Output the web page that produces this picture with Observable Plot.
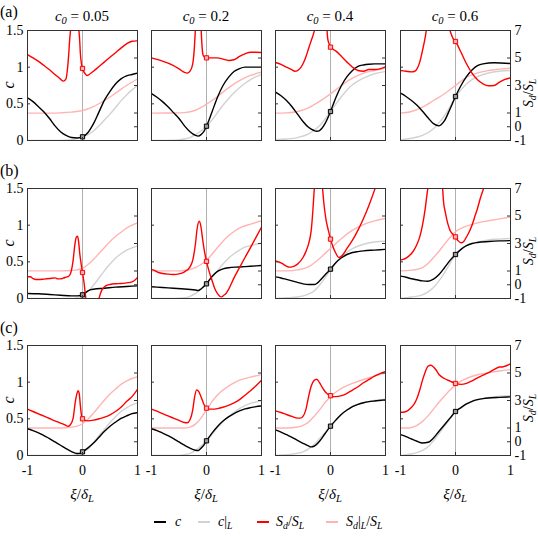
<!DOCTYPE html>
<html><head><meta charset="utf-8">
<script src="https://cdn.jsdelivr.net/npm/d3@7"></script>
<script src="https://cdn.jsdelivr.net/npm/@observablehq/plot@0.6"></script>
<style>
body{margin:0;background:#fff;}
#root{position:relative;width:538px;height:538px;overflow:hidden;font-family:"Liberation Serif","Times New Roman",Times,serif;color:#000;background:#fff;}
.lbl{position:absolute;white-space:nowrap;line-height:1;}
sub{font-size:70%;vertical-align:-0.3em;line-height:0;}
.leg{position:absolute;height:1.5px;width:12px;}
</style></head><body><div id="root"></div>
<script>
// ---- labels / ticks ----
const rowLabels = ["(a)", "(b)", "(c)"];
const c0Labels = ["0.05", "0.2", "0.4", "0.6"];
const cTicks = [0, 0.5, 1, 1.5];
const sTicks = [-1, 0, 1, 3, 5, 7];
const xTicks = [-1, 0, 1];

// ---- data: [xi/deltaL, value]; c in c-units, S in Sd/SL units ----
// row (a)
const a1_c = [[-1,.58],[-.9,.53],[-.8,.46],[-.7,.39],[-.6,.30],[-.5,.20],[-.4,.12],[-.3,.07],[-.2,.04],[-.1,.035],[0,.05],[.1,.11],[.2,.23],[.3,.39],[.4,.55],[.5,.67],[.6,.77],[.7,.84],[.8,.88],[.9,.90],[1,.92]];
const a1_cL = [[-1,0],[-.6,0],[-.3,.003],[-.2,.01],[-.1,.025],[0,.05],[.1,.08],[.2,.13],[.3,.2],[.4,.28],[.5,.36],[.6,.45],[.7,.54],[.8,.62],[.9,.69],[1,.75]];
const a1_S = [[-1,5.25],[-.9,5.01],[-.8,4.75],[-.7,4.45],[-.6,4.14],[-.5,3.8],[-.4,3.46],[-.35,3.32],[-.3,3.48],[-.27,4.33],[-.25,5.3],[-.23,6.5],[-.21,7.3],[-.14,14],[-.07,7.3],[-.05,6.2],[-.04,5.4],[-.02,4.6],[0,4.24],[.05,3.85],[.08,3.73],[.12,3.8],[.2,4.04],[.3,4.38],[.4,4.72],[.5,5.06],[.6,5.38],[.7,5.72],[.8,6.03],[.9,6.22],[1,6.25]];
const a1_SL = [[-1,.99],[-.6,.99],[-.4,1.01],[-.2,1.06],[0,1.18],[.2,1.47],[.4,1.91],[.6,2.44],[.8,3.0],[1,3.48]];

const a2_c = [[-1,.64],[-.9,.59],[-.8,.53],[-.7,.46],[-.6,.38],[-.5,.30],[-.4,.20],[-.3,.12],[-.2,.07],[-.15,.06],[-.1,.08],[-.05,.12],[0,.195],[.1,.39],[.2,.59],[.3,.75],[.4,.86],[.5,.94],[.6,.98],[.7,1.0],[.8,1.0],[1,1.0]];
const a2_cL = [[-1,0],[-.6,.003],[-.5,.01],[-.4,.02],[-.3,.04],[-.2,.08],[-.1,.13],[0,.195],[.1,.28],[.2,.38],[.3,.48],[.4,.57],[.5,.65],[.6,.72],[.7,.78],[.8,.83],[.9,.87],[1,.9]];
const a2_S = [[-1,5.01],[-.8,4.77],[-.6,4.45],[-.5,4.21],[-.4,3.95],[-.35,3.9],[-.3,4.04],[-.25,4.58],[-.22,5.79],[-.2,7.3],[-.15,13],[-.1,7.3],[-.08,5.79],[-.06,5.18],[-.03,5.05],[0,5.01],[.1,5.01],[.2,5.01],[.3,4.92],[.4,4.82],[.5,4.87],[.6,5.11],[.7,5.3],[.8,5.42],[.9,5.42],[1,5.4]];
const a2_SL = [[-1,.99],[-.6,1.0],[-.4,1.03],[-.2,1.2],[0,1.64],[.2,2.2],[.4,2.83],[.6,3.36],[.8,3.73],[1,3.97]];

const a3_c = [[-1,.66],[-.9,.61],[-.8,.545],[-.7,.46],[-.6,.36],[-.5,.26],[-.4,.18],[-.3,.136],[-.25,.127],[-.2,.136],[-.1,.23],[0,.395],[.1,.59],[.2,.75],[.3,.87],[.4,.955],[.5,1.01],[.6,1.03],[.7,1.04],[.8,1.045],[1,1.045]];
const a3_cL = [[-1,.01],[-.8,.02],[-.6,.04],[-.4,.09],[-.3,.14],[-.2,.2],[-.1,.29],[0,.395],[.1,.5],[.2,.6],[.3,.69],[.4,.76],[.5,.81],[.6,.85],[.8,.91],[1,.94]];
const a3_S = [[-1,4.67],[-.9,4.53],[-.8,4.33],[-.7,4.14],[-.65,4.04],[-.6,4.09],[-.5,4.58],[-.45,5.06],[-.4,5.67],[-.35,6.27],[-.3,6.88],[-.27,7.4],[-.17,14],[-.07,7.4],[-.05,6.39],[-.02,5.98],[0,5.79],[.1,5.5],[.2,5.11],[.3,4.7],[.4,4.33],[.5,4.09],[.6,4.04],[.7,4.16],[.8,4.16],[.9,4.21],[1,4.36]];
const a3_SL = [[-1,.99],[-.8,1.01],[-.6,1.11],[-.4,1.38],[-.2,1.84],[0,2.39],[.2,3.0],[.4,3.53],[.6,3.9],[.8,4.09],[1,4.26]];

const a4_c = [[-1,.645],[-.9,.6],[-.8,.545],[-.7,.48],[-.6,.4],[-.5,.31],[-.4,.23],[-.3,.2],[-.2,.27],[-.1,.43],[0,.6],[.1,.75],[.2,.87],[.3,.96],[.4,1.02],[.5,1.045],[.7,1.06],[1,1.05]];
const a4_cL = [[-1,.01],[-.8,.03],[-.6,.07],[-.4,.16],[-.3,.24],[-.2,.34],[-.1,.46],[0,.6],[.1,.69],[.2,.77],[.3,.83],[.4,.87],[.6,.92],[.8,.945],[1,.955]];
const a4_S = [[-1,4.09],[-.9,4.04],[-.8,3.99],[-.75,4.02],[-.7,4.21],[-.65,4.7],[-.6,5.55],[-.55,6.52],[-.52,7.3],[-.32,14],[-.12,7.3],[-.08,6.76],[-.04,6.39],[0,6.2],[.1,5.42],[.2,4.58],[.3,3.9],[.4,3.41],[.5,3.12],[.6,2.98],[.7,3.0],[.8,3.24],[.9,3.44],[1,3.56]];
const a4_SL = [[-1,.99],[-.8,1.11],[-.6,1.42],[-.4,1.91],[-.2,2.4],[0,3.0],[.2,3.6],[.4,3.92],[.6,4.09],[.8,4.19],[1,4.26]];

// row (b)
const b1_c = [[-1,.068],[-.8,.064],[-.6,.055],[-.4,.045],[-.2,.036],[-.1,.036],[0,.05],[.05,.077],[.1,.105],[.2,.127],[.4,.14],[.6,.155],[.8,.164],[1,.173]];
const b1_cL = [[-1,0],[-.2,0],[-.1,.012],[0,.05],[.1,.1],[.2,.18],[.3,.28],[.4,.38],[.5,.47],[.6,.55],[.7,.61],[.8,.66],[.9,.69],[1,.72]];
const b1_S = [[-1,.58],[-.95,.58],[-.9,.45],[-.85,.38],[-.8,.38],[-.7,.41],[-.6,.45],[-.5,.5],[-.45,.43],[-.4,.43],[-.35,.48],[-.3,.55],[-.25,.62],[-.2,1.06],[-.17,1.79],[-.14,2.88],[-.11,3.48],[-.09,3.53],[-.07,3.12],[-.05,2.27],[-.03,1.67],[0,.89],[.03,.09],[.06,-1],[.1,-1.8],[.2,-2.1],[.28,-1.36],[.3,-1.0],[.35,-.39],[.4,-.15],[.45,-.03],[.5,.02],[.6,.07],[.7,.09],[.8,.14],[.9,.21],[.95,.33],[1,.53]];
const b1_SL = [[-1,1.01],[-.4,1.01],[-.2,1.04],[-.1,1.08],[0,1.2],[.1,1.47],[.2,1.84],[.3,2.27],[.4,2.71],[.5,3.15],[.6,3.51],[.7,3.82],[.8,4.12],[.9,4.33],[1,4.5]];

const b2_c = [[-1,.16],[-.8,.15],[-.6,.14],[-.4,.13],[-.2,.115],[-.15,.11],[-.1,.13],[0,.2],[.1,.3],[.2,.37],[.3,.405],[.4,.42],[.6,.43],[.8,.44],[1,.45]];
const b2_cL = [[-1,0],[-.6,0],[-.4,.01],[-.3,.03],[-.2,.07],[-.1,.13],[0,.2],[.1,.29],[.2,.38],[.3,.47],[.4,.55],[.5,.61],[.6,.66],[.7,.7],[.8,.72],[1,.755]];
const b2_S = [[-1,1.1],[-.95,1.05],[-.9,.94],[-.8,.82],[-.7,.77],[-.6,.75],[-.5,.79],[-.4,.94],[-.3,1.3],[-.25,1.79],[-.2,3.0],[-.17,4.09],[-.13,4.63],[-.1,4.2],[-.07,3.3],[-.04,2.5],[0,1.7],[.05,.94],[.1,.33],[.15,-.27],[.2,-.64],[.27,-.88],[.32,-.75],[.35,-.65],[.4,-.35],[.5,.5],[.6,1.25],[.7,1.98],[.8,2.7],[.9,3.45],[1,4.19]];
const b2_SL = [[-1,1.01],[-.5,1.01],[-.4,1.04],[-.3,1.11],[-.2,1.25],[-.1,1.47],[0,1.79],[.1,2.22],[.2,2.71],[.3,3.17],[.4,3.56],[.5,3.87],[.6,4.12],[.8,4.41],[1,4.65]];

const b3_c = [[-1,.295],[-.9,.28],[-.8,.26],[-.7,.24],[-.6,.22],[-.5,.2],[-.4,.19],[-.3,.19],[-.25,.205],[-.2,.24],[-.1,.32],[0,.4],[.1,.49],[.2,.555],[.3,.6],[.4,.627],[.5,.64],[.6,.65],[.8,.66],[1,.67]];
const b3_cL = [[-1,0],[-.8,.01],[-.6,.02],[-.4,.06],[-.3,.1],[-.2,.18],[-.1,.28],[0,.4],[.1,.49],[.2,.57],[.3,.63],[.4,.68],[.6,.74],[.8,.77],[1,.78]];
const b3_S = [[-1,1.74],[-.95,1.67],[-.9,1.59],[-.85,1.47],[-.8,1.35],[-.75,1.28],[-.7,1.3],[-.6,1.5],[-.5,1.98],[-.45,2.39],[-.4,2.95],[-.35,3.97],[-.32,5.42],[-.29,7.3],[-.22,12],[-.15,7.3],[-.12,5.91],[-.08,4.7],[-.04,3.97],[0,3.32],[.05,2.71],[.1,2.27],[.15,1.98],[.2,2.08],[.3,2.64],[.4,3.24],[.5,3.97],[.6,4.82],[.7,5.79],[.8,6.88],[.85,7.5],[.9,8.2],[1,9.5]];
const b3_SL = [[-1,1.01],[-.8,1.01],[-.6,1.08],[-.4,1.3],[-.2,1.91],[0,2.64],[.2,3.36],[.4,3.97],[.6,4.38],[.8,4.65],[1,4.82]];

const b4_c = [[-1,.305],[-.9,.29],[-.8,.27],[-.7,.255],[-.6,.24],[-.5,.236],[-.4,.264],[-.3,.327],[-.2,.42],[-.1,.52],[0,.6],[.1,.67],[.2,.72],[.3,.75],[.4,.764],[.6,.777],[.8,.786],[1,.79]];
const b4_cL = [[-1,0],[-.8,.02],[-.6,.05],[-.5,.09],[-.4,.15],[-.3,.24],[-.2,.35],[-.1,.48],[0,.6],[.1,.67],[.2,.72],[.4,.77],[.6,.8],[.8,.81],[1,.82]];
const b4_S = [[-1,1.79],[-.95,1.84],[-.9,1.93],[-.85,2.08],[-.8,2.27],[-.75,2.56],[-.7,2.95],[-.65,3.48],[-.6,4.33],[-.55,5.55],[-.52,6.52],[-.49,7.4],[-.37,12],[-.24,7.4],[-.22,6.15],[-.18,5.18],[-.14,4.45],[-.1,3.97],[-.05,3.68],[0,3.48],[.05,3.19],[.1,3.05],[.15,3.15],[.2,3.48],[.25,3.85],[.3,4.33],[.35,4.94],[.4,5.55],[.45,6.27],[.5,6.88],[.55,7.4],[.6,8],[1,12]];
const b4_SL = [[-1,1.01],[-.8,1.06],[-.6,1.25],[-.5,1.55],[-.4,1.98],[-.3,2.44],[-.2,2.95],[-.1,3.44],[0,3.85],[.2,4.26],[.4,4.5],[.6,4.65],[.8,4.79],[1,4.92]];

// row (c)
const c1_c = [[-1,.365],[-.9,.34],[-.8,.31],[-.7,.27],[-.6,.23],[-.5,.185],[-.4,.14],[-.3,.095],[-.2,.054],[-.1,.027],[-.05,.027],[0,.05],[.1,.104],[.2,.17],[.3,.25],[.4,.33],[.5,.4],[.6,.455],[.7,.505],[.8,.54],[.9,.57],[1,.585]];
const c1_cL = [[-1,0],[-.2,0],[-.1,.015],[0,.05],[.1,.09],[.2,.17],[.3,.27],[.4,.36],[.5,.45],[.6,.53],[.7,.6],[.8,.65],[.9,.69],[1,.72]];
const c1_S = [[-1,2.37],[-.9,2.2],[-.8,2.03],[-.7,1.86],[-.6,1.69],[-.5,1.52],[-.4,1.36],[-.3,1.19],[-.27,1.12],[-.22,1.24],[-.17,1.72],[-.13,2.92],[-.1,3.52],[-.08,3.71],[-.06,3.52],[-.04,2.68],[-.02,1.96],[0,1.67],[.05,1.55],[.1,1.52],[.2,1.57],[.3,1.67],[.4,1.79],[.5,1.96],[.6,2.2],[.7,2.51],[.8,2.92],[.9,3.28],[1,3.81]];
const c1_SL = [[-1,1],[-.4,1],[-.3,1.02],[-.2,1.06],[-.1,1.14],[0,1.31],[.1,1.64],[.2,2.08],[.3,2.56],[.4,3.04],[.5,3.47],[.6,3.83],[.7,4.17],[.8,4.41],[.9,4.6],[1,4.72]];

const c2_c = [[-1,.365],[-.9,.34],[-.8,.306],[-.7,.27],[-.6,.23],[-.5,.185],[-.4,.14],[-.3,.1],[-.2,.072],[-.15,.068],[-.1,.1],[-.05,.14],[0,.2],[.1,.306],[.2,.396],[.3,.47],[.4,.527],[.5,.572],[.6,.608],[.7,.635],[.8,.653],[.9,.667],[1,.676]];
const c2_cL = [[-1,0],[-.5,0],[-.4,.01],[-.3,.03],[-.2,.07],[-.1,.13],[0,.2],[.1,.29],[.2,.38],[.3,.46],[.4,.53],[.5,.59],[.6,.64],[.7,.68],[.8,.71],[.9,.73],[1,.75]];
const c2_S = [[-1,2.37],[-.9,2.22],[-.8,2.05],[-.7,1.88],[-.6,1.72],[-.5,1.55],[-.4,1.4],[-.35,1.38],[-.3,1.6],[-.25,2.32],[-.22,3.16],[-.18,3.76],[-.14,3.64],[-.1,3.28],[-.05,2.75],[0,2.44],[.05,2.37],[.1,2.37],[.2,2.41],[.3,2.51],[.4,2.65],[.5,2.82],[.6,3.06],[.7,3.38],[.8,3.71],[.9,4.07],[1,4.48]];
const c2_SL = [[-1,1],[-.4,1.0],[-.3,1.07],[-.2,1.28],[-.1,1.72],[0,2.32],[.1,2.92],[.2,3.4],[.3,3.76],[.4,4.05],[.5,4.29],[.6,4.48],[.8,4.7],[1,4.89]];

const c3_c = [[-1,.35],[-.9,.32],[-.8,.284],[-.7,.248],[-.6,.207],[-.5,.167],[-.4,.13],[-.35,.117],[-.3,.126],[-.2,.194],[-.1,.297],[0,.4],[.1,.486],[.2,.563],[.3,.62],[.4,.667],[.5,.698],[.6,.72],[.7,.734],[.8,.743],[1,.757]];
const c3_cL = [[-1,0],[-.8,.01],[-.6,.03],[-.5,.05],[-.4,.09],[-.3,.15],[-.2,.23],[-.1,.31],[0,.4],[.1,.48],[.2,.56],[.3,.62],[.4,.67],[.6,.72],[.8,.75],[1,.77]];
const c3_S = [[-1,2.25],[-.9,2.13],[-.8,1.98],[-.7,1.84],[-.6,1.72],[-.55,1.72],[-.5,1.85],[-.45,2.3],[-.4,3.25],[-.35,4.05],[-.3,4.45],[-.25,4.55],[-.2,4.3],[-.15,3.95],[-.1,3.65],[-.05,3.45],[0,3.35],[.05,3.28],[.1,3.28],[.2,3.35],[.3,3.52],[.4,3.76],[.5,4.0],[.6,4.29],[.7,4.53],[.8,4.77],[.9,4.96],[1,5.11]];
const c3_SL = [[-1,1],[-.8,1.0],[-.6,1.07],[-.5,1.19],[-.4,1.43],[-.3,1.84],[-.2,2.32],[-.1,2.85],[0,3.28],[.1,3.62],[.2,3.88],[.4,4.24],[.6,4.53],[.8,4.77],[1,5.01]];

const c4_c = [[-1,.284],[-.9,.257],[-.8,.225],[-.7,.194],[-.6,.171],[-.5,.18],[-.4,.239],[-.3,.33],[-.2,.42],[-.1,.509],[0,.6],[.1,.653],[.2,.703],[.3,.739],[.4,.761],[.5,.775],[.6,.784],[.8,.793],[1,.8]];
const c4_cL = [[-1,0],[-.9,.01],[-.8,.02],[-.7,.04],[-.6,.07],[-.5,.12],[-.4,.2],[-.3,.3],[-.2,.4],[-.1,.5],[0,.6],[.1,.65],[.2,.7],[.4,.76],[.6,.79],[.8,.81],[1,.815]];
const c4_S = [[-1,2.15],[-.95,2.15],[-.9,2.2],[-.85,2.32],[-.8,2.51],[-.75,2.75],[-.7,3.16],[-.65,3.76],[-.6,4.48],[-.55,5.08],[-.5,5.49],[-.45,5.56],[-.4,5.44],[-.35,5.2],[-.3,4.89],[-.2,4.6],[-.1,4.41],[0,4.24],[.1,4.17],[.2,4.24],[.3,4.43],[.4,4.65],[.5,4.84],[.6,5.03],[.7,5.25],[.8,5.44],[.85,5.44],[.9,5.49],[1,5.68]];
const c4_SL = [[-1,1],[-.9,1],[-.8,1.04],[-.7,1.19],[-.6,1.48],[-.5,1.88],[-.4,2.37],[-.3,2.87],[-.2,3.33],[-.1,3.76],[0,4.12],[.1,4.41],[.2,4.6],[.4,4.87],[.6,5.03],[.8,5.15],[1,5.25]];

// ---- build ----
const panels = [
  [a1_c,a1_cL,a1_S,a1_SL],[a2_c,a2_cL,a2_S,a2_SL],[a3_c,a3_cL,a3_S,a3_SL],[a4_c,a4_cL,a4_S,a4_SL],
  [b1_c,b1_cL,b1_S,b1_SL],[b2_c,b2_cL,b2_S,b2_SL],[b3_c,b3_cL,b3_S,b3_SL],[b4_c,b4_cL,b4_S,b4_SL],
  [c1_c,c1_cL,c1_S,c1_SL],[c2_c,c2_cL,c2_S,c2_SL],[c3_c,c3_cL,c3_S,c3_SL],[c4_c,c4_cL,c4_S,c4_SL]
];
const S_LO = -1, S_HI = 7, C_HI = 1.5;
const s2c = s => (s - S_LO) * C_HI / (S_HI - S_LO);   // right axis mapped onto left scale
const c2s = c => c * (S_HI - S_LO) / C_HI + S_LO;

const X0 = [27, 151, 275, 400], Y0 = [30, 188, 345], PW = 110, PH = 110;
const ML = 40, MR = 40, MT = 10, MB = 30;
const COL = {c: "#000000", cL: "#d2d2d2", S: "#ff0000", SL: "#ffb4b4"};
const FONT = "'Liberation Serif', 'Times New Roman', Times, serif";
const root = document.getElementById("root");

function label(html, x, y, opts = {}) {
  const d = document.createElement("div");
  d.className = "lbl";
  d.innerHTML = html;
  d.style.left = x + "px";
  d.style.top = y + "px";
  d.style.fontSize = (opts.size || 15) + "px";
  const ax = opts.anchor === "start" ? "0" : opts.anchor === "end" ? "-100%" : "-50%";
  d.style.transform = `translate(${ax},-50%)` + (opts.rotate ? ` rotate(${opts.rotate}deg)` : "");
  root.appendChild(d);
}

panels.forEach((p, k) => {
  const row = Math.floor(k / 4), col = k % 4;
  const [cD, cLD, sD, sLD] = p;
  const at0c = cD.filter(d => d[0] === 0);
  const at0s = sD.filter(d => d[0] === 0);
  const line = (data, f, stroke) => Plot.line(data, {x: d => d[0], y: f, stroke, strokeWidth: 1.4, curve: "monotone-x", clip: true});
  const marks = [
    Plot.ruleX([0], {stroke: "#b0b0b0", strokeWidth: 1}),
    line(cLD, d => d[1], COL.cL),
    line(sLD, d => s2c(d[1]), COL.SL),
    line(cD, d => d[1], COL.c),
    line(sD, d => s2c(d[1]), COL.S),
    Plot.dot(at0c, {x: d => d[0], y: d => d[1], symbol: "square", r: 2.4, stroke: "#000", fill: "#999", strokeWidth: 1}),
    Plot.dot(at0s, {x: d => d[0], y: d => s2c(d[1]), symbol: "square", r: 2.4, stroke: "#ff0000", fill: "#ffb0b0", strokeWidth: 1}),
    Plot.tickY(cTicks, {y: d => d, insetRight: PW - 3, stroke: "#333"}),
    Plot.tickY(sTicks, {y: d => s2c(d), insetLeft: PW - 3, stroke: "#333"}),
    Plot.tickX(xTicks, {x: d => d, insetTop: PH - 3, stroke: "#333"}),
    Plot.frame({stroke: "#333"})
  ];
  if (col === 0) marks.push(Plot.axisY({anchor: "left", ticks: cTicks, tickSize: 0, tickPadding: 4, tickFormat: d => String(d), label: null}));
  if (col === 3) marks.push(Plot.axisY({anchor: "right", ticks: sTicks.map(s2c), tickSize: 0, tickPadding: 4, tickFormat: d => String(Math.round(c2s(d))), label: null}));
  if (row === 2) marks.push(Plot.axisX({anchor: "bottom", ticks: xTicks, tickSize: 0, tickPadding: 10, tickFormat: d => String(d), label: null}));
  const svg = Plot.plot({
    width: PW + ML + MR, height: PH + MT + MB,
    marginLeft: ML, marginRight: MR, marginTop: MT, marginBottom: MB,
    x: {domain: [-1, 1], axis: null},
    y: {domain: [0, C_HI], axis: null},
    style: {background: "transparent", fontFamily: FONT, fontSize: "14px", color: "#000", overflow: "visible"},
    marks
  });
  svg.style.position = "absolute";
  svg.style.left = (X0[col] - ML) + "px";
  svg.style.top = (Y0[row] - MT) + "px";
  root.appendChild(svg);
});

// row labels, column titles, axis labels
rowLabels.forEach((t, r) => label(t, 0, [12, 171, 328][r], {anchor: "start", size: 16}));
c0Labels.forEach((t, c) => label(`<i>c<sub>0</sub></i> = ${t}`, X0[c] + PW / 2, 16, {size: 15}));
Y0.forEach(y => {
  label("<i>c</i>", 9, y + PH / 2, {size: 16, rotate: -90});
  label("<i>S<sub>d</sub></i>/<i>S<sub>L</sub></i>", 529, y + PH / 2 + 8, {size: 14, rotate: -90});
});
X0.forEach(x => label("<i>ξ</i>/<i>δ<sub>L</sub></i>", x + PW / 2, 494, {size: 15}));

// legend
const legendItems = [
  {html: "<i>c</i>", color: COL.c, lx: 154, tx: 175},
  {html: "<i>c</i>|<sub><i>L</i></sub>", color: COL.cL, lx: 198, tx: 218},
  {html: "<i>S<sub>d</sub></i>/<i>S<sub>L</sub></i>", color: COL.S, lx: 257, tx: 276},
  {html: "<i>S<sub>d</sub></i>|<sub><i>L</i></sub>/<i>S<sub>L</sub></i>", color: COL.SL, lx: 326, tx: 346}
];
legendItems.forEach(it => {
  const l = document.createElement("div");
  l.className = "leg";
  l.style.left = it.lx + "px";
  l.style.top = "521px";
  l.style.background = it.color;
  root.appendChild(l);
  label(it.html, it.tx, 522, {anchor: "start", size: 14});
});
</script></body></html>
